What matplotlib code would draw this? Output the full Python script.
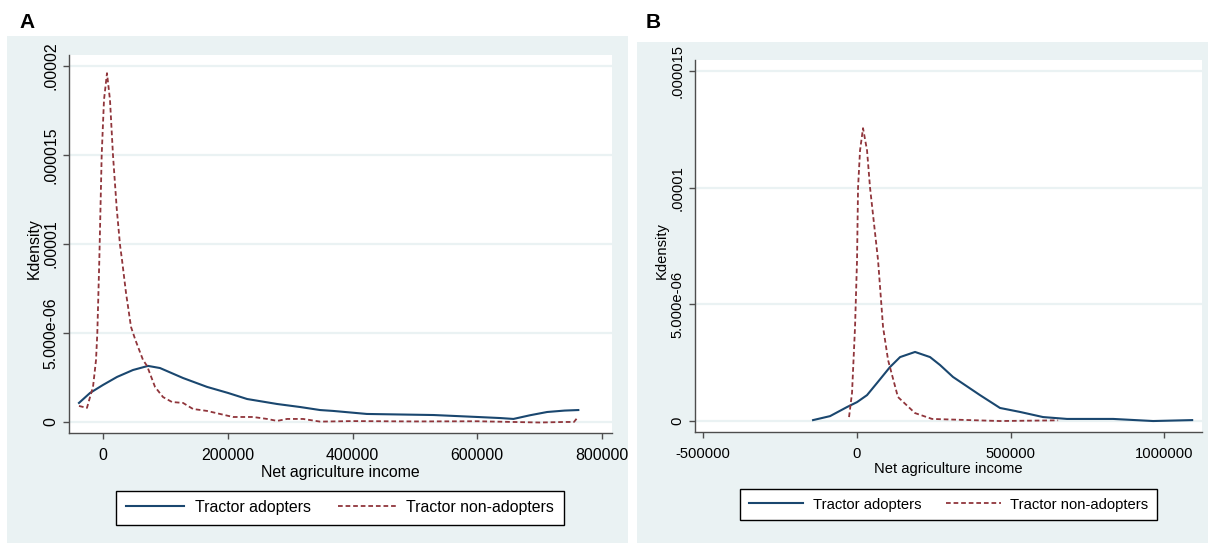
import matplotlib
matplotlib.use("Agg")
import matplotlib.pyplot as plt
from matplotlib.patches import Rectangle
from matplotlib.lines import Line2D

plt.rcParams['font.family'] = ['Liberation Sans', 'DejaVu Sans']

# ---- Panel A: kernel density of net agriculture income ----
a_adopt_x = [-38500, -20800, 0, 22500, 48100, 72200, 91400, 128300, 166800,
             200500, 231000, 279100, 316000, 348000, 369000, 423000, 530000,
             600000, 637000, 658000, 685000, 712000, 740000, 762000]
a_adopt_y = [1.07e-6, 1.63e-6, 2.08e-6, 2.53e-6, 2.92e-6, 3.15e-6, 3.03e-6,
             2.47e-6, 1.97e-6, 1.63e-6, 1.29e-6, 1.01e-6, 0.84e-6, 0.67e-6,
             0.62e-6, 0.45e-6, 0.39e-6, 0.28e-6, 0.22e-6, 0.17e-6, 0.38e-6,
             0.56e-6, 0.64e-6, 0.67e-6]

a_non_x = [-38500, -25700, -20800, -16000, -11200, -9100, -5900, -2100, 1600,
           6400, 11200, 16000, 22000, 27300, 30500, 36900, 44900, 52000, 64200,
           70600, 83400, 96200, 110700, 128300, 144300, 166800, 187600, 208500,
           240600, 263000, 279100, 295100, 320800, 348000, 400000, 500000,
           600000, 700000, 740000, 755000, 762000]
a_non_y = [0.90e-6, 0.79e-6, 1.40e-6, 1.97e-6, 3.48e-6, 5.0e-6, 9.1e-6, 1.5e-5,
           1.81e-5, 1.96e-5, 1.81e-5, 1.5e-5, 1.2e-5, 9.94e-6, 9.1e-6, 7.25e-6,
           5.34e-6, 4.6e-6, 3.48e-6, 3.15e-6, 1.97e-6, 1.40e-6, 1.12e-6,
           1.07e-6, 0.73e-6, 0.62e-6, 0.45e-6, 0.28e-6, 0.28e-6, 0.17e-6,
           0.06e-6, 0.17e-6, 0.17e-6, 0.02e-6, 0.05e-6, 0.03e-6, 0.04e-6,
           -0.03e-6, 0.0, 0.0, 0.30e-6]

a_xticks = [0, 200000, 400000, 600000, 800000]
a_xticklabels = ["0", "200000", "400000", "600000", "800000"]
a_yticks = [0, 5e-6, 1e-5, 1.5e-5, 2e-5]
a_yticklabels = ["0", "5.000e-06", ".00001", ".000015", ".00002"]

# ---- Panel B ----
b_adopt_x = [-143000, -87800, -32500, 0, 32500, 65000, 107000, 140000, 188700,
             237500, 270000, 312000, 400000, 465000, 530000, 605000, 683000,
             833000, 963000, 1090000]
b_adopt_y = [0.04e-6, 0.21e-6, 0.60e-6, 0.81e-6, 1.11e-6, 1.63e-6, 2.31e-6,
             2.74e-6, 2.96e-6, 2.74e-6, 2.40e-6, 1.89e-6, 1.11e-6, 0.56e-6,
             0.39e-6, 0.17e-6, 0.09e-6, 0.09e-6, 0.0, 0.04e-6]

b_non_x = [-26000, -16300, -6500, 0, 3300, 9800, 19500, 32500, 42300, 68300,
           84600, 101000, 133000, 188700, 244000, 465000, 654000]
b_non_y = [0.17e-6, 1.2e-6, 4.03e-6, 6.9e-6, 1.0e-5, 1.16e-5, 1.255e-5,
           1.16e-5, 1.0e-5, 6.9e-6, 4.03e-6, 2.61e-6, 1.03e-6, 0.34e-6,
           0.09e-6, 0.0, 0.03e-6]

b_xticks = [-500000, 0, 500000, 1000000]
b_xticklabels = ["-500000", "0", "500000", "1000000"]
b_yticks = [0, 5e-6, 1e-5, 1.5e-5]
b_yticklabels = ["0", "5.000e-06", ".00001", ".000015"]

series_labels = ["Tractor adopters", "Tractor non-adopters"]

W, H = 1208, 543
BG = "#eaf2f3"
NAVY = "#1a476f"
MAROON = "#90353b"
AXC = "#4d4d4d"

fig = plt.figure(figsize=(W / 100, H / 100), dpi=100)


def px_rect(x0, y0, x1, y1):
    return [x0 / W, 1 - y1 / H, (x1 - x0) / W, (y1 - y0) / H]


# graph-region backgrounds
for (x0, y0, x1, y1) in [(7, 36, 628, 543), (637, 42, 1208, 543)]:
    r = px_rect(x0, y0, x1, y1)
    fig.patches.append(Rectangle((r[0], r[1]), r[2], r[3], transform=fig.transFigure,
                                 facecolor=BG, edgecolor="none", zorder=-10))


def panel(rect, xlim, ylim, xt, xtl, yt, ytl, adopt, non, fs, letter, letter_xy,
          leg_center, ylab_x, ylab_y, xlab_y):
    ax = fig.add_axes(px_rect(*rect))
    ax.set_zorder(1)
    ax.set_facecolor("white")
    ax.set_xlim(*xlim)
    ax.set_ylim(*ylim)
    for y in yt:
        ax.axhline(y, color=BG, lw=1.6, zorder=0)
    ax.plot(adopt[0], adopt[1], color=NAVY, lw=1.5, solid_joinstyle="round")
    ax.plot(non[0], non[1], color=MAROON, lw=1.3, dashes=(2.6, 1.6))
    for s in ["top", "right"]:
        ax.spines[s].set_visible(False)
    for s in ["left", "bottom"]:
        ax.spines[s].set_color(AXC)
        ax.spines[s].set_linewidth(1.0)
    ax.set_xticks(xt)
    ax.set_xticklabels(xtl, fontsize=fs)
    ax.set_yticks(yt)
    ax.set_yticklabels(ytl, fontsize=fs, rotation=90, va="center")
    ax.tick_params(axis="both", direction="out", length=4.5, width=1.0, color=AXC)
    ax.tick_params(axis="x", pad=6)
    ax.tick_params(axis="y", pad=3)
    ax.set_xlabel("Net agriculture income", fontsize=fs)
    ax.set_ylabel("Kdensity", fontsize=fs)
    ax.xaxis.set_label_coords(0.5, xlab_y)
    ax.yaxis.set_label_coords(ylab_x, ylab_y)
    fig.text(letter_xy[0] / W, 1 - letter_xy[1] / H, letter, fontsize=15,
             fontweight="bold", ha="left", va="baseline")
    h1 = Line2D([], [], color=NAVY, lw=1.5)
    h2 = Line2D([], [], color=MAROON, lw=1.3, dashes=(2.6, 1.6))
    leg = fig.legend([h1, h2], series_labels, loc="center",
                     bbox_to_anchor=(leg_center[0] / W, 1 - leg_center[1] / H),
                     ncol=2, fontsize=fs, frameon=True, fancybox=False,
                     edgecolor="black", framealpha=1, handlelength=3.7,
                     handletextpad=0.65, columnspacing=1.7, borderpad=0.6,
                     borderaxespad=0)
    leg.get_frame().set_linewidth(1.0)
    leg.set_zorder(2)
    return ax


panel((69, 55, 612, 433), (-54500, 816000), (-6.2e-7, 2.062e-5),
      a_xticks, a_xticklabels, a_yticks, a_yticklabels,
      (a_adopt_x, a_adopt_y), (a_non_x, a_non_y), 11.4, "A", (19, 28),
      (340, 507.5), -0.05, 0.487, -0.085)

panel((695, 60, 1202, 432), (-527000, 1122000), (-4.7e-7, 1.547e-5),
      b_xticks, b_xticklabels, b_yticks, b_yticklabels,
      (b_adopt_x, b_adopt_y), (b_non_x, b_non_y), 10.6, "B", (646, 28),
      (948.5, 504.5), -0.051, 0.489, -0.081)

fig.savefig("out.png", dpi=100)
